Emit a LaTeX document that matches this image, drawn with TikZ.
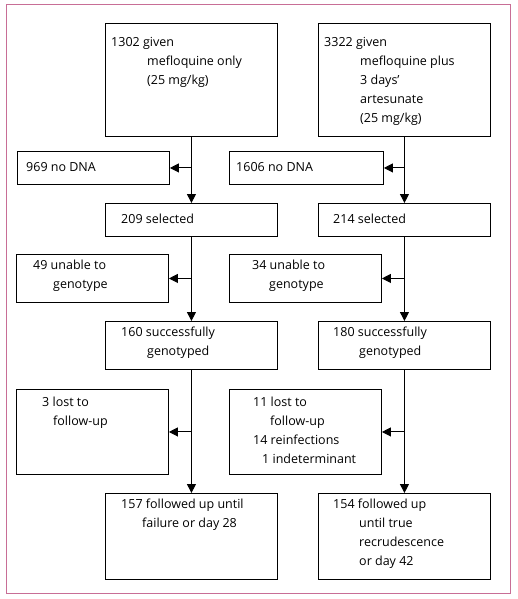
\documentclass[tikz,border=0pt]{standalone}
\usepackage{fontspec}
\setmainfont{Open Sans}
\usepackage{xcolor}
\usetikzlibrary{arrows.meta}

\definecolor{framepink}{RGB}{200,110,150}

\begin{document}
\begin{tikzpicture}[
    x=1pt, y=-1pt,
    box/.style={draw, line width=0.9pt, anchor=north west, inner sep=0pt},
    txt/.style={anchor=north west, align=left, inner sep=0pt, font=\fontsize{12.5}{19}\selectfont},
    arrow/.style={line width=1pt, -{Triangle[length=9pt, width=9pt]}}
]
\useasboundingbox (0,0) rectangle (517,599);
\draw[framepink, line width=1pt] (6,5) rectangle (510,593);

% Boxes, left arm
\node (given1) [box, minimum width=172pt, minimum height=113pt] at (105,23) {};
\node (nodna1) [box, minimum width=152pt, minimum height=33pt] at (17,151) {};
\node (sel1) [box, minimum width=172pt, minimum height=33pt] at (105,203) {};
\node (unable1) [box, minimum width=152pt, minimum height=48pt] at (16,254) {};
\node (geno1) [box, minimum width=172pt, minimum height=48pt] at (105,321) {};
\node (lost1) [box, minimum width=152pt, minimum height=85pt] at (16,389) {};
\node (fol1) [box, minimum width=172pt, minimum height=86pt] at (105,493) {};

% Boxes, right arm
\node (given2) [box, minimum width=172pt, minimum height=113pt] at (318,23) {};
\node (nodna2) [box, minimum width=154pt, minimum height=33pt] at (229,151) {};
\node (sel2) [box, minimum width=172pt, minimum height=33pt] at (318,203) {};
\node (unable2) [box, minimum width=152pt, minimum height=48pt] at (229,254) {};
\node (geno2) [box, minimum width=172pt, minimum height=48pt] at (318,321) {};
\node (lost2) [box, minimum width=152pt, minimum height=85pt] at (229,389) {};
\node (fol2) [box, minimum width=172pt, minimum height=86pt] at (318,493) {};

% Texts
\node (given1t) [txt] at (111,37) {1302 given\\\hspace*{36pt}mefloquine only\\\hspace*{36pt}(25 mg/kg)};
\node (nodna1t) [txt] at (26,162) {969 no DNA};
\node (sel1t) [txt] at (121,214) {209 selected};
\node (unable1t) [txt] at (33,260) {49 unable to\\\hspace*{20pt}genotype};
\node (geno1t) [txt] at (121,327) {160 successfully\\\hspace*{26pt}genotyped};
\node (lost1t) [txt] at (42,397) {3 lost to\\\hspace*{11pt}follow-up};
\node (fol1t) [txt] at (121,499) {157 followed up until\\\hspace*{21pt}failure or day 28};

\node (given2t) [txt] at (324,37) {3322 given\\\hspace*{36pt}mefloquine plus\\\hspace*{36pt}3 days'\\\hspace*{36pt}artesunate\\\hspace*{36pt}(25 mg/kg)};
\node (nodna2t) [txt] at (236,162) {1606 no DNA};
\node (sel2t) [txt] at (333,214) {214 selected};
\node (unable2t) [txt] at (252,260) {34 unable to\\\hspace*{17pt}genotype};
\node (geno2t) [txt] at (333,327) {180 successfully\\\hspace*{26pt}genotyped};
\node (lost2t) [txt] at (253,397) {11 lost to\\\hspace*{17pt}follow-up\\14 reinfections\\\hspace*{9pt}1 indeterminant};
\node (fol2t) [txt] at (333,499) {154 followed up\\\hspace*{26pt}until true\\\hspace*{26pt}recrudescence\\\hspace*{26pt}or day 42};

% Paths
\draw [arrow] (given1) -- (sel1);
\draw [arrow] (sel1) -- (geno1);
\draw [arrow] (geno1) -- (fol1);
\draw [arrow] (given1.south |- nodna1.east) -- (nodna1.east);
\draw [arrow] (sel1.south |- unable1.east) -- (unable1.east);
\draw [arrow] (geno1.south |- lost1.east) -- (lost1.east);

\draw [arrow] (given2) -- (sel2);
\draw [arrow] (sel2) -- (geno2);
\draw [arrow] (geno2) -- (fol2);
\draw [arrow] (given2.south |- nodna2.east) -- (nodna2.east);
\draw [arrow] (sel2.south |- unable2.east) -- (unable2.east);
\draw [arrow] (geno2.south |- lost2.east) -- (lost2.east);

\end{tikzpicture}
\end{document}
